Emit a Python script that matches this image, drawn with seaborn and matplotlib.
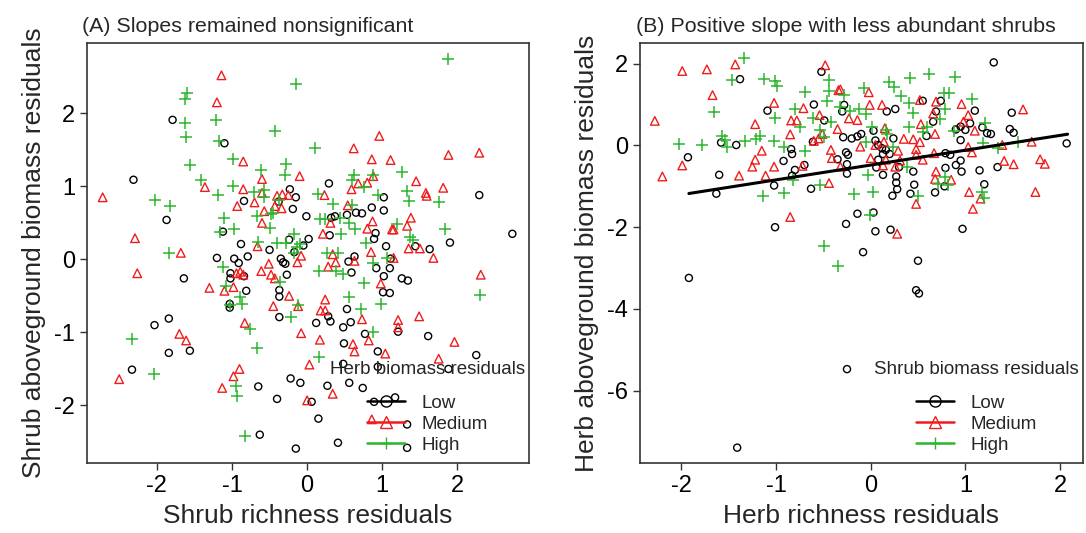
import numpy as np
import seaborn as sns
import matplotlib.pyplot as plt
from matplotlib.lines import Line2D

# ---- panel A: shrub richness residuals vs shrub aboveground biomass residuals
a_low_x = [-1.79, -1.10, -2.31, -1.87, -0.23, -0.15, -0.19, 0.29, -0.84, -0.38, -0.01, 0.32, 0.37, 0.53, 0.65,
           0.73, 0.86, 1.02, 1.02, 2.29, 2.73, -1.12, -0.88, -0.24, 0.02, -0.05, -0.17, -0.50, 0.30, 0.91,
           0.89, 1.05, 1.44, 1.63, 1.90, 0.63, 0.55, 1.11, -1.20, -0.97, -0.91, -0.79, -0.35, -0.32, -0.29,
           0.92, 1.10, -1.64, -1.02, -1.02, -0.84, -0.81, -1.03, -1.03, -0.37, -0.37, -0.27, -0.37, -2.03,
           -1.84, -1.84, -1.56, -2.33, 0.59, 1.01, 1.10, 1.02, 1.26, 1.34, 0.53, 0.58, 0.48, 0.31, 0.28,
           0.12, 0.77, 0.49, 0.94, 1.21, 1.61, 2.25, 0.48, 0.94, 1.88, -0.22, -0.09, 0.27, 0.56, 0.74,
           -0.65, -0.40, 0.06, 0.89, 1.17, 0.15, -0.63, 0.41, -0.15, 1.33, 1.33]
a_low_y = [1.91, 1.59, 1.09, 0.54, 0.96, 0.85, 0.69, 1.04, 0.80, 0.79, 0.59, 0.57, 0.59, 0.61, 0.64,
           0.63, 0.71, 0.67, 0.85, 0.88, 0.35, 0.38, 0.21, 0.27, 0.28, 0.19, 0.10, 0.13, 0.33, 0.36,
           0.28, 0.18, 0.18, 0.14, 0.23, 0.04, -0.03, 0.01, 0.02, 0.01, -0.05, 0.04, 0.01, -0.04, -0.06,
           -0.12, -0.12, -0.26, -0.19, -0.26, -0.23, -0.43, -0.61, -0.66, -0.42, -0.51, -0.21, -0.79, -0.90,
           -0.81, -1.28, -1.25, -1.51, -0.18, -0.45, -0.46, -0.23, -0.26, -0.29, -0.68, -0.86, -0.93, -0.85, -0.78,
           -0.87, -1.02, -1.15, -1.26, -0.99, -1.05, -1.31, -1.43, -1.47, -1.50, -1.63, -1.69, -1.73, -1.69, -1.76,
           -1.74, -1.91, -1.95, -1.95, -1.89, -2.18, -2.40, -2.51, -2.59, -2.26, -2.58]

a_med_x = [-1.14, -1.20, 0.96, 0.62, 0.86, 1.11, 1.88, 2.29, -0.85, -0.60, -0.10, 0.88, 0.68, 0.80, 1.45,
           1.81, 1.58, 1.59, -2.72, -1.36, -0.85, -0.60, -0.40, -0.33, -0.25, 0.23, 0.59, -0.93, -0.70, -0.43,
           -0.34, -0.57, 0.54, -0.60, 0.31, 0.87, 1.38, 1.33, 0.80, 1.13, 1.15, 0.21, -2.29, -1.68, -0.66,
           -0.08, 0.85, 1.35, 1.50, 1.68, -0.51, -0.13, 0.34, 0.38, 0.28, 0.63, 1.15, -2.26, -1.30, -1.10,
           -0.98, -0.94, -0.89, -0.85, -0.61, -0.48, -0.43, -0.24, -0.45, -0.12, 0.24, 0.18, 0.24, -0.83, -1.70,
           -1.61, -0.08, 0.17, 0.73, 0.82, 0.61, 0.63, 0.98, 1.21, 1.21, 1.49, 1.96, 1.75, 2.31, 1.04,
           0.03, -0.90, -0.98, -2.50, -1.13, 0.34, 0.00, 0.86]
a_med_y = [2.52, 2.15, 1.69, 1.52, 1.37, 1.36, 1.43, 1.46, 1.34, 1.10, 1.14, 1.14, 1.04, 1.05, 1.07,
           0.98, 0.91, 0.87, 0.85, 0.99, 0.96, 0.91, 0.87, 0.89, 0.88, 0.88, 0.96, 0.73, 0.78, 0.73,
           0.70, 0.66, 0.74, 0.50, 0.50, 0.52, 0.57, 0.46, 0.42, 0.41, 0.41, 0.35, 0.29, 0.09, 0.18,
           0.05, 0.10, 0.15, 0.15, 0.02, -0.06, -0.04, 0.07, -0.04, -0.10, -0.02, 0.02, -0.19, -0.39, -0.43,
           -0.38, -0.19, -0.17, -0.21, -0.16, -0.21, -0.26, -0.50, -0.64, -0.64, -0.55, -0.70, -0.70, -0.87, -1.02,
           -1.11, -1.01, -1.10, -0.82, -1.11, -1.16, -1.26, -0.33, -0.83, -0.93, -0.78, -1.13, -1.36, -0.21, -1.29,
           -1.44, -1.50, -1.60, -1.64, -1.76, -1.84, -1.93, -2.19]

a_high_x = [1.87, -0.15, -1.60, -1.63, -1.63, -1.61, -1.21, -1.17, -0.43, 0.11, -1.56, -0.99, -0.62, -0.28, -0.30,
            -1.41, -0.98, -1.19, -2.02, -1.83, -0.71, -0.57, -0.58, -0.37, -0.45, -0.48, -1.11, -0.97, -1.16, -0.49,
            -0.67, -1.84, -0.66, -0.40, -0.28, -0.17, -0.14, -0.09, -0.18, 0.15, 0.34, 0.17, 0.24, 0.44, 0.45,
            0.62, 0.60, 0.87, 0.75, 0.60, 0.56, 0.64, 0.94, 1.26, 1.33, 1.35, 1.75, 1.19, 1.37, 1.41,
            1.83, 0.78, 0.26, 0.41, 0.87, 1.06, -1.12, -1.08, -0.89, -0.86, -1.02, -0.76, -0.67, -0.36, -0.12,
            -0.21, 0.16, 0.39, 0.48, 0.75, 0.56, 0.71, 0.98, 0.87, 0.16, -2.33, -2.04, -0.94, -0.93, -0.82, 2.30]
a_high_y = [2.75, 2.40, 2.28, 2.20, 1.87, 1.68, 1.91, 1.62, 1.76, 1.53, 1.29, 1.37, 1.22, 1.30, 1.16,
            1.09, 1.01, 0.88, 0.81, 0.73, 0.92, 0.95, 0.85, 0.81, 0.63, 0.62, 0.57, 0.41, 0.38, 0.43,
            0.59, 0.09, 0.24, 0.23, 0.23, 0.35, 0.17, 0.21, 0.09, 0.90, 0.76, 0.55, 0.55, 0.57, 0.35,
            1.16, 1.09, 1.16, 0.99, 0.74, 0.50, 0.41, 0.88, 1.20, 0.94, 0.80, 0.79, 0.48, 0.30, 0.26,
            0.41, 0.23, 0.09, 0.09, -0.05, 0.02, -0.11, -0.37, -0.51, -0.61, -0.63, -0.95, -1.21, -0.31, -0.63,
            -0.79, -0.16, -0.16, -0.20, -0.33, -0.52, -0.68, -0.61, -1.00, -1.33, -1.09, -1.57, -1.73, -1.87, -2.42, -0.49]

# ---- panel B: herb richness residuals vs herb aboveground biomass residuals
b_low_x = [1.30, -1.38, -0.52, -0.60, -1.09, -0.49, -0.28, -0.30, -0.29, -0.20, -0.14, -0.10, 0.03, 0.17, 0.26,
           0.24, 0.05, 0.08, 0.12, 0.16, 0.13, 0.20, 0.08, 0.06, 0.13, 0.30, 0.27, 0.27, 0.28, 0.23,
           0.42, 0.45, 0.46, 0.55, 0.74, 0.69, 0.66, 0.59, 0.79, 0.79, 0.78, 0.68, 0.84, 0.90, 0.95,
           1.00, 0.95, 0.95, 0.96, 0.90, 1.05, 1.10, 1.18, 1.23, 1.27, 1.15, 1.20, 1.34, 1.49, 1.47,
           1.51, 2.07, 0.97, 0.50, 0.05, 0.21, 0.03, -0.14, -0.26, -0.08, -1.01, -0.63, -0.25, -0.25, -0.26,
           -0.24, -0.35, -0.70, -0.80, -0.83, -0.84, -0.83, -0.92, -1.02, -0.61, -1.42, -1.58, -1.60, -1.63, -1.93,
           -1.92, -1.41, 0.48, 0.51, -0.25]
b_low_y = [2.03, 1.62, 1.80, 1.00, 0.85, 0.61, 0.99, 0.83, 0.20, 0.17, 0.22, 0.28, 0.36, 0.83, 0.89,
           0.17, 0.12, 0.01, -0.07, -0.11, -0.21, -0.21, -0.35, -0.54, -0.72, -0.53, -0.76, -0.91, -1.07, -1.23,
           -1.18, -0.64, -0.96, 1.09, 1.09, 0.83, 0.58, 0.23, -0.19, -0.55, -1.00, -1.15, -0.23, 0.39, 0.46,
           0.38, 0.13, -0.37, -0.64, -0.48, 0.54, 0.85, 0.44, 0.30, 0.28, -0.61, -0.95, -0.53, 0.80, 0.40,
           0.31, 0.05, -2.04, -2.82, -2.10, -2.06, -1.64, -1.67, -1.92, -2.61, -2.00, -1.06, -0.46, -0.69, -0.17,
           -0.23, -0.34, -0.48, -0.60, -0.74, -0.09, -0.21, -0.38, -0.98, 0.09, 0.01, 0.07, -0.72, -1.18, -0.29,
           -3.24, -7.39, -3.54, -3.62, -5.47]

b_med_x = [-2.28, -1.99, -1.73, -1.43, -1.67, -2.20, -1.99, -1.39, -1.22, -1.22, -1.25, -1.15, -1.11, -1.02, -1.02,
           -0.85, -0.84, -0.78, -0.71, -0.72, -0.85, -0.60, -0.55, -0.54, -0.51, -0.48, -0.42, -0.41, -0.35, -0.34,
           -0.32, -0.32, -0.44, -0.23, -0.14, -0.11, -0.02, -0.01, 0.00, 0.12, 0.15, 0.16, 0.13, 0.05, 0.14,
           0.26, 0.29, 0.31, 0.35, 0.45, 0.48, 0.48, 0.55, 0.52, 0.53, 0.52, 0.69, 0.66, 0.68, 0.67,
           0.69, 0.68, 0.85, 0.48, 0.28, 0.96, 1.03, 0.98, 1.03, 1.07, 1.10, 1.04, 1.08, 1.16, 1.39,
           1.41, 1.51, 1.61, 1.70, 1.79, 1.84, 1.74]
b_med_y = [0.60, 1.82, 1.86, 1.98, 1.23, -0.76, -0.49, -0.74, 0.52, -0.35, -0.52, -0.13, -0.74, 1.04, -0.52,
           0.27, 0.61, 0.61, 0.91, -0.50, -1.75, 0.11, 0.17, 0.74, 0.28, 1.96, -0.11, -0.31, 0.40, 1.35,
           1.37, -0.52, -0.92, 0.66, 0.62, -0.03, 1.30, 0.99, -0.31, 0.99, 0.42, -0.35, -0.49, 0.01, 0.09,
           -0.52, -0.13, -0.37, 0.16, 0.15, -0.09, -0.23, -0.35, 0.08, 0.52, 1.11, 1.07, 0.78, 0.28, -0.19,
           -0.64, -0.82, -0.84, -1.43, -2.16, 1.01, 0.74, 0.58, -0.04, -0.17, 0.36, -1.14, -1.55, -1.30, 0.01,
           -0.38, -0.46, 0.88, 0.09, -0.34, -0.45, -1.14]

b_high_x = [-1.34, -1.46, -1.13, -1.01, -0.99, -1.66, -2.02, -1.78, -1.57, -1.54, -1.52, -1.33, -1.21, -1.17, -1.02,
            -1.01, -0.92, -0.92, -1.14, -0.80, -0.75, -0.69, -0.69, -0.82, -0.61, -0.54, -0.49, -0.46, -0.44, -0.44,
            -0.42, -0.32, -0.28, -0.22, -0.12, -0.07, -0.05, -0.05, 0.01, -0.03, -0.01, 0.02, -0.18, -0.54, -0.49,
            -0.34, 0.19, 0.25, 0.32, 0.40, 0.45, 0.42, 0.62, 0.89, 0.77, 0.83, 0.79, 1.07, 1.21, 1.19,
            1.35, 0.16, 0.17, 0.40, 0.55, 0.60, 0.88, 0.79, 0.82, 0.71, 1.18, 1.20, 0.50, 0.38, 0.24,
            1.56, 0.73]
b_high_y = [2.14, 1.60, 1.62, 1.57, 1.45, 0.82, 0.04, 0.01, 0.23, 0.13, -0.03, 0.11, 0.15, 0.22, 0.11,
            0.66, -0.03, -1.17, -1.23, 0.89, 0.46, 1.31, -0.13, -0.84, 0.66, 0.38, 0.20, 1.09, 1.61, 1.34,
            0.58, 0.95, 1.23, 0.83, 0.88, 1.40, 0.77, 0.09, 0.46, -0.72, -1.70, -1.15, -1.19, -0.96, -2.45,
            -2.94, 1.56, 1.42, 1.21, 1.04, 0.80, 1.64, 1.74, 1.68, 1.27, 1.27, 0.89, 1.13, 0.54, 0.05,
            -0.07, 0.38, 0.28, 0.46, 0.34, 0.44, 0.36, -0.78, -0.97, -0.94, -1.13, -1.29, -1.23, -0.53, -0.03,
            0.09, 0.64]

# fitted line in panel B
fit_x = [-1.92, 2.08]
fit_intercept = -0.48
fit_slope = 0.3625

levels = ["Low", "Medium", "High"]
colors = {"Low": "black", "Medium": "#f01c1c", "High": "#2db52d"}
markers = {"Low": "o", "Medium": "^", "High": "+"}
sizes = {"Low": 26, "Medium": 38, "High": 70}

sns.set_style("ticks")
plt.rcParams["font.family"] = ["Liberation Sans", "DejaVu Sans"]
plt.rcParams["axes.unicode_minus"] = False

fig = plt.figure(figsize=(10.86, 5.33), dpi=100)
ax1 = fig.add_axes([0.080, 0.131, 0.407, 0.788])
ax2 = fig.add_axes([0.589, 0.131, 0.408, 0.788])


def draw_group(ax, x, y, level):
    if markers[level] == "+":
        sns.scatterplot(x=x, y=y, ax=ax, marker="+", color=colors[level], s=sizes[level], linewidth=1.1)
    else:
        sns.scatterplot(x=x, y=y, ax=ax, marker=markers[level], facecolor="none",
                        edgecolor=colors[level], s=sizes[level], linewidth=1.0)


draw_group(ax1, a_low_x, a_low_y, "Low")
draw_group(ax1, a_med_x, a_med_y, "Medium")
draw_group(ax1, a_high_x, a_high_y, "High")

draw_group(ax2, b_low_x, b_low_y, "Low")
draw_group(ax2, b_med_x, b_med_y, "Medium")
draw_group(ax2, b_high_x, b_high_y, "High")

fit_y = [fit_intercept + fit_slope * v for v in fit_x]
sns.lineplot(x=fit_x, y=fit_y, ax=ax2, color="black", linewidth=2.2)

ax1.set_xlim(-2.93, 2.95)
ax1.set_ylim(-2.79, 2.96)
ax1.set_xticks([-2, -1, 0, 1, 2])
ax1.set_yticks([-2, -1, 0, 1, 2])
ax2.set_xlim(-2.44, 2.24)
ax2.set_ylim(-7.77, 2.5)
ax2.set_xticks([-2, -1, 0, 1, 2])
ax2.set_yticks([-6, -4, -2, 0, 2])

ax1.set_xlabel("Shrub richness residuals", fontsize=19, labelpad=5)
ax1.set_ylabel("Shrub aboveground biomass residuals", fontsize=19, labelpad=6)
ax2.set_xlabel("Herb richness residuals", fontsize=19, labelpad=5)
ax2.set_ylabel("Herb aboveground biomass residuals", fontsize=19, labelpad=6)
ax1.set_title("(A) Slopes remained nonsignificant", loc="left", fontsize=15.4, x=-0.012, pad=8)
ax2.set_title("(B) Positive slope with less abundant shrubs", loc="left", fontsize=15.4, x=-0.008, pad=8)

for ax in (ax1, ax2):
    for sp in ax.spines.values():
        sp.set_visible(True)
        sp.set_color("#333333")
        sp.set_linewidth(1.2)
    ax.tick_params(direction="out", length=5, width=1, colors="#333333", labelsize=17, labelcolor="black")
    ax.grid(False)

handles = [Line2D([], [], color=colors[l], marker=markers[l], markerfacecolor="none",
                  markersize=8, markeredgewidth=1.0, linewidth=1.8) for l in levels]
leg1 = ax1.legend(handles, levels, title="Herb biomass residuals", loc="upper center",
                  bbox_to_anchor=(0.771, 0.265), frameon=False, fontsize=13.5, title_fontsize=13.5,
                  handlelength=2.0, handletextpad=0.9, labelspacing=0.2, borderpad=0)
leg2 = ax2.legend(handles, levels, title="Shrub biomass residuals", loc="upper center",
                  bbox_to_anchor=(0.761, 0.265), frameon=False, fontsize=13.5, title_fontsize=13.5,
                  handlelength=2.0, handletextpad=0.9, labelspacing=0.2, borderpad=0)
# extra room between legend title and entries, as in the original
for leg in (leg1, leg2):
    leg._legend_box.sep = 12

fig.savefig("out.png", dpi=100)
